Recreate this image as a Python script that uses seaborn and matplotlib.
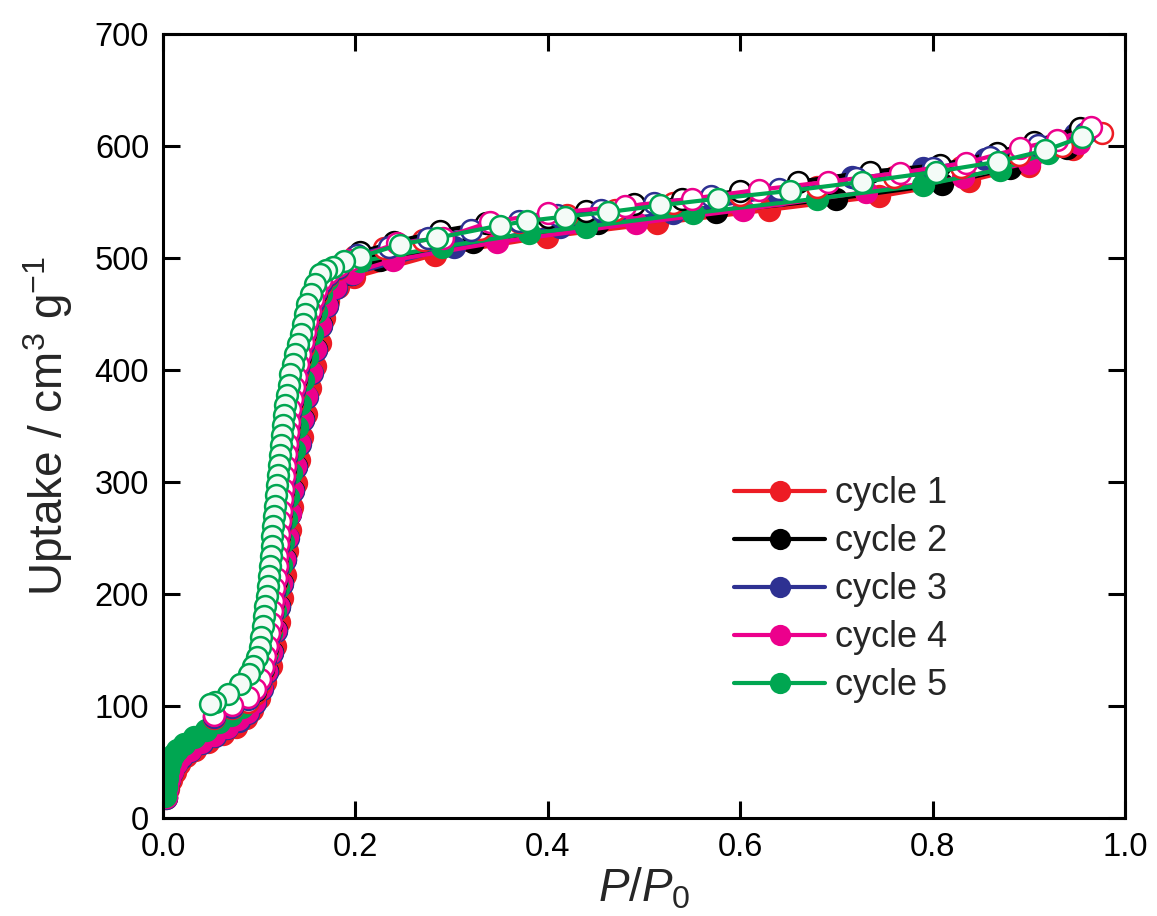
import matplotlib
matplotlib.use("Agg")
import matplotlib.pyplot as plt
import seaborn as sns

# ---------------- data ----------------
cycles = ["cycle 1", "cycle 2", "cycle 3", "cycle 4", "cycle 5"]
colors = ["#ED1C24", "#000000", "#2E3192", "#EC008C", "#00A651"]

# adsorption branches (filled markers)
p_ads_1 = [0.003, 0.005, 0.008, 0.012, 0.017, 0.024, 0.033, 0.047, 0.062, 0.076, 0.086, 0.093, 0.100, 0.106, 0.112,
           0.116, 0.1205, 0.1235, 0.1265, 0.129, 0.1315, 0.1345, 0.1378, 0.141, 0.1447, 0.1488, 0.153, 0.158, 0.163,
           0.1675, 0.172, 0.182, 0.199, 0.283, 0.399, 0.514, 0.630, 0.744, 0.838, 0.900, 0.946]
u_ads_1 = [18, 26, 34, 41, 48, 55, 61, 68, 75, 81, 89, 96, 107, 121, 136, 154, 175, 196, 217, 238, 257, 278, 299,
           320, 340, 361, 384, 404, 424, 446, 462, 474, 483, 503, 519, 531, 543, 555, 569, 582, 597]

p_ads_2 = [0.003, 0.004, 0.006, 0.009, 0.013, 0.019, 0.028, 0.040, 0.053, 0.066, 0.078, 0.087, 0.095, 0.102, 0.108,
           0.113, 0.117, 0.1205, 0.1235, 0.1265, 0.129, 0.132, 0.135, 0.138, 0.1415, 0.145, 0.149, 0.154, 0.159,
           0.164, 0.170, 0.179, 0.195, 0.226, 0.322, 0.452, 0.575, 0.700, 0.810, 0.880, 0.940]
u_ads_2 = [19, 27, 35, 42, 49, 55, 61, 68, 74, 81, 88, 95, 104, 116, 131, 148, 168, 189, 210, 231, 251, 272, 293,
           314, 335, 356, 377, 398, 419, 440, 458, 474, 486, 498, 514, 531, 541, 553, 566, 580, 598]

p_ads_3 = [0.003, 0.004, 0.006, 0.009, 0.013, 0.019, 0.028, 0.041, 0.054, 0.067, 0.079, 0.088, 0.096, 0.103, 0.1085,
           0.1135, 0.1175, 0.121, 0.124, 0.127, 0.1295, 0.1325, 0.1355, 0.1385, 0.142, 0.1455, 0.1495, 0.1545,
           0.1595, 0.1645, 0.1705, 0.1795, 0.196, 0.302, 0.413, 0.530, 0.640, 0.716, 0.790, 0.855, 0.948]
u_ads_3 = [18, 26, 34, 41, 48, 54, 60, 67, 73, 80, 87, 94, 103, 115, 130, 147, 167, 188, 209, 230, 250, 271, 292,
           313, 334, 355, 376, 397, 418, 439, 457, 473, 486, 510, 528, 540, 556, 572, 580, 588, 611]

p_ads_4 = [0.003, 0.004, 0.006, 0.009, 0.013, 0.019, 0.028, 0.040, 0.053, 0.066, 0.078, 0.087, 0.095, 0.102, 0.1075,
           0.1125, 0.1165, 0.120, 0.123, 0.126, 0.1285, 0.1315, 0.1345, 0.1375, 0.141, 0.1445, 0.1485, 0.1535,
           0.1585, 0.1635, 0.1695, 0.1785, 0.197, 0.239, 0.347, 0.492, 0.603, 0.731, 0.832, 0.900, 0.952]
u_ads_4 = [19, 27, 35, 42, 49, 55, 61, 68, 74, 81, 88, 95, 104, 116, 131, 148, 168, 189, 210, 231, 251, 272, 293,
           314, 335, 356, 377, 398, 419, 440, 458, 474, 487, 498, 514, 531, 543, 559, 572, 585, 603]

p_ads_5 = [0.002, 0.003, 0.004, 0.005, 0.007, 0.010, 0.015, 0.022, 0.032, 0.045, 0.058, 0.071, 0.082, 0.090, 0.097,
           0.103, 0.108, 0.112, 0.116, 0.1195, 0.1225, 0.125, 0.1275, 0.130, 0.133, 0.136, 0.139, 0.1425, 0.146,
           0.150, 0.1545, 0.159, 0.164, 0.170, 0.180, 0.205, 0.290, 0.380, 0.440, 0.551, 0.680, 0.790, 0.870, 0.920]
u_ads_5 = [20, 28, 36, 43, 50, 56, 61, 66, 72, 79, 86, 92, 99, 107, 118, 131, 147, 165, 185, 205, 226, 246, 267,
           287, 308, 329, 349, 370, 391, 412, 432, 452, 468, 480, 490, 497, 510, 522, 528, 540, 553, 565, 579, 594]

# desorption branches (open markers): plateau part per cycle
p_des_top_1 = [0.976, 0.935, 0.890, 0.830, 0.760, 0.680, 0.600, 0.530, 0.470, 0.420, 0.370, 0.330, 0.270, 0.230, 0.200]
u_des_top_1 = [612, 600, 592, 581, 572, 563, 556, 549, 543, 538, 532, 526, 516, 509, 502]
p_des_top_2 = [0.953, 0.905, 0.867, 0.808, 0.735, 0.660, 0.600, 0.540, 0.490, 0.440, 0.400, 0.336, 0.288, 0.240, 0.205]
u_des_top_2 = [616, 604, 594, 583, 577, 568, 560, 553, 548, 542, 537, 531, 524, 514, 505]
p_des_top_3 = [0.958, 0.910, 0.860, 0.800, 0.720, 0.640, 0.570, 0.510, 0.455, 0.410, 0.370, 0.320, 0.275, 0.235, 0.202]
u_des_top_3 = [612, 601, 590, 580, 571, 562, 555, 549, 543, 538, 533, 525, 518, 510, 503]
p_des_top_4 = [0.965, 0.929, 0.891, 0.835, 0.766, 0.691, 0.620, 0.550, 0.480, 0.400, 0.340, 0.291, 0.243, 0.194]
u_des_top_4 = [617, 605, 598, 585, 576, 568, 561, 553, 546, 540, 532, 518, 513, 498]

# desorption steep part, cycles 1-4 (shared pressure points)
p_des_steep = [0.182, 0.171, 0.164, 0.159, 0.1555, 0.1525, 0.150, 0.1475, 0.145, 0.1425, 0.140, 0.1378, 0.1358,
               0.134, 0.1325, 0.1312, 0.130, 0.129, 0.128, 0.127, 0.126, 0.125, 0.124, 0.123, 0.122, 0.121, 0.120,
               0.119, 0.118, 0.117, 0.1158, 0.1145, 0.1132, 0.1118, 0.1102, 0.1085, 0.1065, 0.104, 0.101, 0.096,
               0.088, 0.072, 0.053]
u_des_steep_1 = [490, 484, 476, 467, 458, 449, 440, 430, 420, 410, 400, 390, 380, 370, 360, 350, 340, 330, 320, 310,
                 300, 290, 280, 270, 260, 250, 240, 230, 220, 210, 200, 190, 180, 170, 160, 150, 140, 131, 120, 111,
                 104, 98, 89]
u_des_steep_2 = [492, 486, 479, 469, 461, 451, 443, 432, 423, 412, 403, 392, 383, 372, 363, 352, 343, 332, 323, 312,
                 303, 292, 283, 272, 263, 252, 243, 232, 223, 212, 203, 192, 183, 172, 163, 152, 143, 133, 123, 113,
                 107, 100, 91]
u_des_steep_3 = [491, 485, 478, 470, 460, 452, 442, 433, 422, 413, 402, 393, 382, 373, 362, 353, 342, 333, 322, 313,
                 302, 293, 282, 273, 262, 253, 242, 233, 222, 213, 202, 193, 182, 173, 162, 153, 142, 134, 122, 114,
                 106, 99, 90]
u_des_steep_4 = [493, 487, 480, 471, 463, 453, 444, 434, 425, 414, 405, 394, 385, 374, 365, 354, 345, 334, 325, 314,
                 305, 294, 285, 274, 265, 254, 245, 234, 225, 214, 205, 194, 185, 174, 165, 154, 145, 135, 124, 115,
                 108, 101, 92]

# desorption cycle 5 (full branch)
p_des_5 = [0.955, 0.917, 0.868, 0.804, 0.727, 0.652, 0.577, 0.517, 0.463, 0.418, 0.378, 0.350, 0.285, 0.246, 0.205,
           0.188, 0.177, 0.169, 0.163, 0.158, 0.1535, 0.150, 0.1475, 0.1455, 0.143, 0.1405, 0.1375, 0.135, 0.1325,
           0.1305, 0.1288, 0.1273, 0.126, 0.1248, 0.1237, 0.1226, 0.1216, 0.1205, 0.1195, 0.1185, 0.1175, 0.1165,
           0.1157, 0.1148, 0.1138, 0.1128, 0.1118, 0.1108, 0.1098, 0.1088, 0.1077, 0.1065, 0.1052, 0.1038, 0.1022,
           0.1003, 0.098, 0.094, 0.089, 0.080, 0.068, 0.054, 0.049]
u_des_5 = [608, 596, 586, 577, 568, 560, 553, 547, 541, 537, 533, 529, 518, 512, 501, 497, 492, 489, 486, 477, 468,
           459, 450, 441, 432, 423, 414, 405, 396, 387, 378, 369, 360, 351, 342, 333, 324, 315, 306, 297, 288, 279,
           270, 261, 252, 243, 234, 225, 216, 207, 198, 189, 180, 171, 162, 153, 144, 136, 129, 120, 111, 104, 102]

x_ticks = [0.0, 0.2, 0.4, 0.6, 0.8, 1.0]
y_ticks = [0, 100, 200, 300, 400, 500, 600, 700]

# ---------------- assemble ----------------
ads_p = [p_ads_1, p_ads_2, p_ads_3, p_ads_4, p_ads_5]
ads_u = [u_ads_1, u_ads_2, u_ads_3, u_ads_4, u_ads_5]
des_p = [p_des_top_1 + p_des_steep, p_des_top_2 + p_des_steep, p_des_top_3 + p_des_steep,
         p_des_top_4 + p_des_steep, p_des_5]
des_u = [u_des_top_1 + u_des_steep_1, u_des_top_2 + u_des_steep_2, u_des_top_3 + u_des_steep_3,
         u_des_top_4 + u_des_steep_4, u_des_5]

# ---------------- style ----------------
sns.set_style("ticks")
plt.rcParams["font.family"] = ["Liberation Sans", "DejaVu Sans"]
plt.rcParams["mathtext.fontset"] = "custom"
plt.rcParams["mathtext.rm"] = "Liberation Sans"
plt.rcParams["mathtext.it"] = "Liberation Sans:italic"

fig = plt.figure(figsize=(11.57, 9.16), dpi=100)
ax = fig.add_axes([0.1409, 0.107, 0.8314, 0.8559])

LW = 3.0
MS = 15
MEW = 1.8
handles = []
# adsorption branches first
for i in range(5):
    c = colors[i]
    sns.lineplot(x=ads_p[i], y=ads_u[i], sort=False, estimator=None, ax=ax, color=c, lw=LW,
                 marker="o", markersize=MS, markerfacecolor=c, markeredgecolor=c, markeredgewidth=MEW,
                 label=cycles[i], zorder=2 + i)
    handles.append(ax.lines[-1])
# desorption branches on top
for i in range(5):
    c = colors[i]
    face = "#F4FBF7" if i == 4 else "white"
    sns.lineplot(x=des_p[i], y=des_u[i], sort=False, estimator=None, ax=ax, color=c, lw=LW,
                 marker="o", markersize=MS, markerfacecolor=face, markeredgecolor=c, markeredgewidth=MEW,
                 zorder=8 + i)

ax.set_xlim(0, 1.0)
ax.set_ylim(0, 700)
ax.set_xticks(x_ticks)
ax.set_xticklabels([f"{v:.1f}" for v in x_ticks])
ax.set_yticks(y_ticks)
ax.set_yticklabels([str(v) for v in y_ticks])
ax.tick_params(direction="in", length=12, width=2.2, labelsize=23.5, top=True, right=True,
               pad=10, colors="black")
for s in ax.spines.values():
    s.set_linewidth(2.2)
    s.set_color("black")
    s.set_visible(True)
    s.set_zorder(20)

ax.set_xlabel(r"$P/P_{\mathrm{0}}$", fontsize=33, labelpad=2)
ax.set_ylabel(r"Uptake / cm$^{3}$ g$^{-1}$", fontsize=33, labelpad=14)

leg = ax.legend(handles=handles, labels=cycles, loc="upper left", bbox_to_anchor=(0.594, 0.436),
                frameon=False, fontsize=26, handlelength=2.5, handletextpad=0.28, markerscale=0.9,
                labelspacing=0.36, borderpad=0.0, borderaxespad=0.0)
leg.set_zorder(30)

fig.savefig("out.png", dpi=100)
